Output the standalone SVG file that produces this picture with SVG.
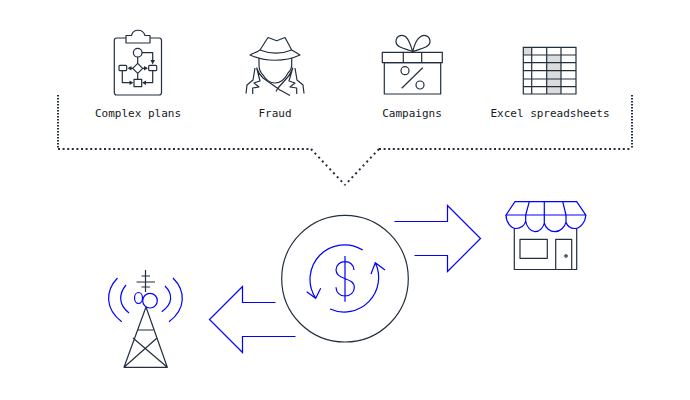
<svg xmlns="http://www.w3.org/2000/svg" width="690" height="400" viewBox="0 0 690 400">
<style>
.d{fill:none;stroke:#232f3e;stroke-width:1.2;stroke-linejoin:round}
.b{fill:none;stroke:#0000ff;stroke-width:1.2}
.t{font-family:"DejaVu Sans Mono","Liberation Mono",monospace;font-size:11px;fill:#16191f;text-anchor:middle}
.h{fill:#232f3e;stroke:none}
.o{fill:none;stroke:#232f3e;stroke-width:2}
</style>
<rect width="690" height="400" fill="#fff"/>
<g id="connectors">
<path class="o" stroke-dasharray="1.500 1.500" d="M58 95V149M632 95V149"/>
<path class="o" stroke-dasharray="2 2.600" d="M58 149H311M379 149H632"/>
<path class="o" stroke-dasharray="2 3.400" d="M311 149L345 185M379 149L345 185"/>
<path class="b" d="M394.500 221.500H447.500V205.500L480.500 238.500L447.500 271.500V255.500H414.500"/>
<path class="b" d="M295.500 336.500H242.500V352.500L209.500 319.500L242.500 286.500V302.500H275.500"/>
</g>
<g id="complex-plans">
<rect class="d" x="114.300" y="38" width="47.200" height="57" rx="2.500"/>
<path class="d" style="fill:#fff" d="M126 43H150V35.500H145C143 28.500 133 28.500 131.500 35.500H126Z"/>
<circle class="d" cx="137.700" cy="52.700" r="4.300"/>
<path class="d" d="M142 52.700H152.700V60M137.700 57V63.300M133 68.300H129M143 68.300H147M122.300 70.700V82.700H130M152.700 70.700V82.700H146M137.700 73.300V79.300"/>
<path class="d" d="M137.700 63.300L142.700 68.300L137.700 73.300L132.700 68.300Z"/>
<rect class="d" x="119" y="65.300" width="7.700" height="5.400" rx="1"/>
<rect class="d" x="148.700" y="65.300" width="8" height="5.400" rx="1"/>
<rect class="d" x="134" y="79.300" width="7.700" height="7.400"/>
<path class="h" d="M150.500 60H155L152.700 64.500ZM131.500 66V70.500L127.500 68.300ZM144 66V70.500L148 68.300ZM129.500 80.500V85L133.500 82.700ZM146 80.500V85L142 82.700Z"/>
<text class="t" x="138" y="117">Complex plans</text>
</g>
<g id="fraud">
<path class="d" d="M250 55C254 53 258 51.500 260 50L268 37.500L276.700 40.700L285 37.500L291.700 50C294 51.500 297 53 300 55C285 62 265 62 250 55Z"/>
<path class="d" d="M260 50C270 54 282 54 291.700 50"/>
<path class="d" d="M259 58V65C259 70 261 73 263 75C266 80 270 83 275 83C280 83 285 79 288 73C290 71 291.700 69 291.700 65V58"/>
<path class="d" d="M255 68L253 80L247 85L246 93.500M252.700 94V88L259 87L254 83L260 81L256.700 68C258 72 260 75 263 78L280 90L290 95.500"/>
<path class="d" d="M295 68L297 80L303 85L304 93.500M296.700 94V88L290 87L295 83L289 81L292.700 68C291 72 290 75 287 78L278 88L276 91.500"/>
<text class="t" x="275" y="117">Fraud</text>
</g>
<g id="campaigns">
<rect class="d" x="382.300" y="52.300" width="60" height="10.400"/>
<rect class="d" x="384.300" y="62.700" width="56.400" height="31.300"/>
<path class="d" d="M403.300 52.300V62.700M421.700 52.300V62.700"/>
<path class="d" d="M412.700 51.700C407 49 396 48 396 41.700C396 36 402 33.500 406 37C409 40 411 46 412.700 51.700C414 46 416 40 420 37C424 33.500 430 36 430 41.700C430 48 418 49 412.700 51.700Z"/>
<circle class="d" cx="405" cy="70.700" r="4"/>
<circle class="d" cx="420" cy="85" r="4"/>
<path class="d" d="M401.700 88.300L422.700 67.700"/>
<text class="t" x="412" y="117">Campaigns</text>
</g>
<g id="excel-spreadsheets">
<rect x="523.300" y="47.300" width="8.400" height="7.700" fill="#dcdcdc"/>
<rect x="546.700" y="55" width="14.300" height="39" fill="#dcdcdc"/>
<path d="M523.300 47.300H576V94H523.300ZM531.700 47.300V94M546.700 47.300V94M561 47.300V94M523.300 55H576M523.300 62.700H576M523.300 70.700H576M523.300 79H576M523.300 86.700H576" fill="none" stroke="#232f3e" stroke-width="1.200"/>
<text class="t" x="550" y="117">Excel spreadsheets</text>
</g>
<g id="exchange">
<circle class="d" cx="345" cy="278.700" r="63.300"/>
<path class="b" d="M345 256V301.700M354 270C354 265 350 261.700 345 261.700C340 261.700 336 265 336 270C336 275 340 277 345 278.700C350 280.500 354.300 282 354.300 287.500C354.300 292.500 350 296 345 296C340 296 336 292.500 336 287.300"/>
<path class="b" d="M362.700 250A34.500 34.500 0 0 0 315.700 298.300M306.700 291.700L315.700 298.300L320.700 288.300"/>
<path class="b" d="M330 309A34.500 34.500 0 0 0 375.300 262.700M371 274L375.300 262.700L385 270"/>
</g>
<g id="store">
<path class="d" d="M514.300 228V269.500H576.700V228M520 239.300H547.300V258.300H520ZM555.700 269.500V239.300H571.700V269.500"/>
<circle class="d" cx="566" cy="256" r="1.200"/>
<path class="b" d="M506 215L515 201.700H576.700L585.700 215ZM525.700 215L529.300 201.700M544.300 215V201.700M566 215L562.700 201.700M506 215C506 222 511 228.500 516 228.500C521 228.500 525 225 525.700 221M525.700 215V221C526.500 227 531 231.700 535 231.700C540 231.700 543.500 227 544.300 223M544.300 215V223C545.500 228 550 231.700 555 231.700C560 231.700 565 227 566 222M566 215V222C567 226 570 228.500 575 228.500C580 228.500 585.700 222 585.700 215"/>
</g>
<g id="tower">
<path class="d" d="M145.500 270V292M136.500 282H155M141.500 276H150M141.500 287H150"/>
<path class="d" d="M146 307L124 367.300H167.300ZM137.700 330H153.300M133 338L167.300 367.300M157 338L124 367.300"/>
<circle class="b" cx="150" cy="300.700" r="7.300"/>
<ellipse class="b" cx="138.500" cy="298" rx="4" ry="5.500"/>
<path class="b" d="M117.500 278C105 291 105 309 121.700 321.700M126 285C118.500 294 118.500 305 129 313M173 278C186 291 186 309 169 321.700M165 286C173 294 173 304 161.700 311.700"/>
</g>
</svg>
